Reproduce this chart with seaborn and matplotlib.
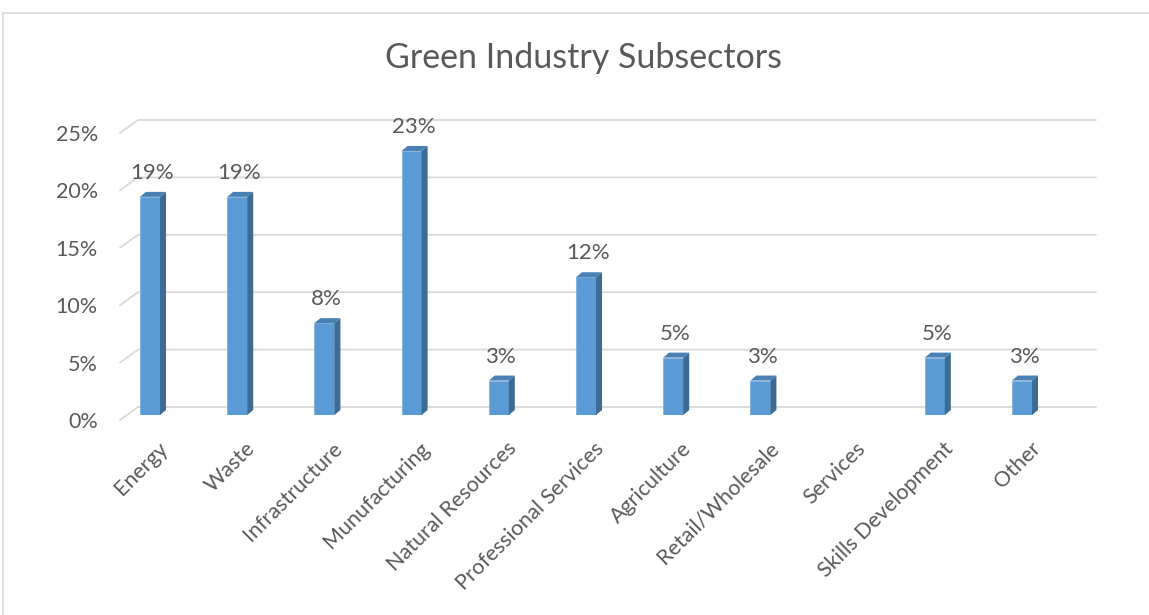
import matplotlib
matplotlib.use("Agg")
import matplotlib.pyplot as plt
from matplotlib.lines import Line2D
from matplotlib.patches import Polygon, Rectangle
from matplotlib.transforms import IdentityTransform, ScaledTranslation
import seaborn as sns

# Share of firms by green industry subsector (percent)
categories = ["Energy", "Waste", "Infrastructure", "Munufacturing", "Natural Resources",
              "Professional Services", "Agriculture", "Retail/Wholesale", "Services",
              "Skills Development", "Other"]
shares = [19, 19, 8, 23, 3, 12, 5, 3, 0, 5, 3]
y_ticks = [0, 5, 10, 15, 20, 25]
y_tick_labels = ["0%", "5%", "10%", "15%", "20%", "25%"]
title = "Green Industry Subsectors"

W, H, DPI = 1149, 615, 100
FRONT = "#5B9BD5"
SIDE = "#3D6B94"
TOP = "#4A80B3"
GRID = "#D9D9D9"
TEXT = "#595959"
FONT = ["Lato", "DejaVu Sans"]

sns.set_theme(style="white")
plt.rcParams["font.family"] = FONT

fig = plt.figure(figsize=(W / DPI, H / DPI), dpi=DPI)
fig.patch.set_facecolor("white")

# plot area in pixels (front plane of the columns)
px_left, px_right, px_bottom, px_top = 120, 1100, 415, 128
ax = fig.add_axes([px_left / W, (H - px_bottom) / H,
                   (px_right - px_left) / W, (px_bottom - px_top) / H])
ax.patch.set_alpha(0)

sns.barplot(x=categories, y=shares, color=FRONT, saturation=1, width=0.23,
            edgecolor="#7FB2E0", linewidth=0.6, ax=ax, zorder=3)

step = 87.2
ax.set_xlim(-(150 - px_left) / step, 10 + (px_right - 1022) / step)
ax.set_ylim(0, 25)
for s in ax.spines.values():
    s.set_visible(False)
ax.tick_params(axis="both", length=0)

# value axis labels sit at the front edge of the floor/gridlines
ax.set_yticks(y_ticks)
ax.set_yticklabels(y_tick_labels, color=TEXT, fontsize=15.5)
ax.tick_params(axis="y", pad=16)
for lab in ax.get_yticklabels():
    lab.set_transform(lab.get_transform() + ScaledTranslation(0, -5 / DPI, fig.dpi_scale_trans))

ax.set_xticks(range(len(categories)))
ax.set_xticklabels(categories, rotation=45, ha="right", va="center",
                   rotation_mode="anchor", color=TEXT, fontsize=15.5)
ax.tick_params(axis="x", pad=22)
for lab in ax.get_xticklabels():
    lab.set_transform(lab.get_transform() + ScaledTranslation(15 / DPI, 0, fig.dpi_scale_trans))

to_disp = ax.transData.transform

# gridlines on the back wall with a short diagonal on the side wall
for v in y_ticks:
    _, yd = to_disp((0, v))
    back_y = yd + 8
    fig.add_artist(Line2D([px_left, 138, 1096], [yd - 5, back_y, back_y],
                          transform=IdentityTransform(), color=GRID,
                          linewidth=1.3, zorder=-1))

# depth faces for each column
dx, dy = 6, 5
for bar in ax.patches:
    x0 = bar.get_x()
    x1 = x0 + bar.get_width()
    h = bar.get_height()
    if h <= 0:
        continue
    (ax0, ay0), (ax1, ay1) = to_disp([(x0, 0), (x1, h)])
    side = Polygon([(ax1, ay0), (ax1, ay1), (ax1 + dx, ay1 + dy), (ax1 + dx, ay0 + dy)],
                   closed=True, facecolor=SIDE, edgecolor="none",
                   transform=IdentityTransform(), zorder=4, clip_on=False)
    top = Polygon([(ax0, ay1), (ax1, ay1), (ax1 + dx, ay1 + dy), (ax0 + dx, ay1 + dy)],
                  closed=True, facecolor=TOP, edgecolor="none",
                  transform=IdentityTransform(), zorder=4, clip_on=False)
    ax.add_patch(side)
    ax.add_patch(top)
    ax.text(x0 + bar.get_width() / 2, h, f"{h:.0f}%", ha="center", va="bottom",
            color=TEXT, fontsize=16,
            transform=ax.transData + ScaledTranslation(2 / DPI, 14 / DPI, fig.dpi_scale_trans))

fig.text(583 / W, 1 - 58 / H, title, ha="center", va="center", color=TEXT, fontsize=24.5)

# chart border
fig.add_artist(Rectangle((3 / W, -0.05), 1.2, 1 - 13 / H + 0.05, transform=fig.transFigure,
                         facecolor="none", edgecolor="#D9D9D9", linewidth=1.2))

fig.savefig("out.png", dpi=DPI, facecolor="white")
